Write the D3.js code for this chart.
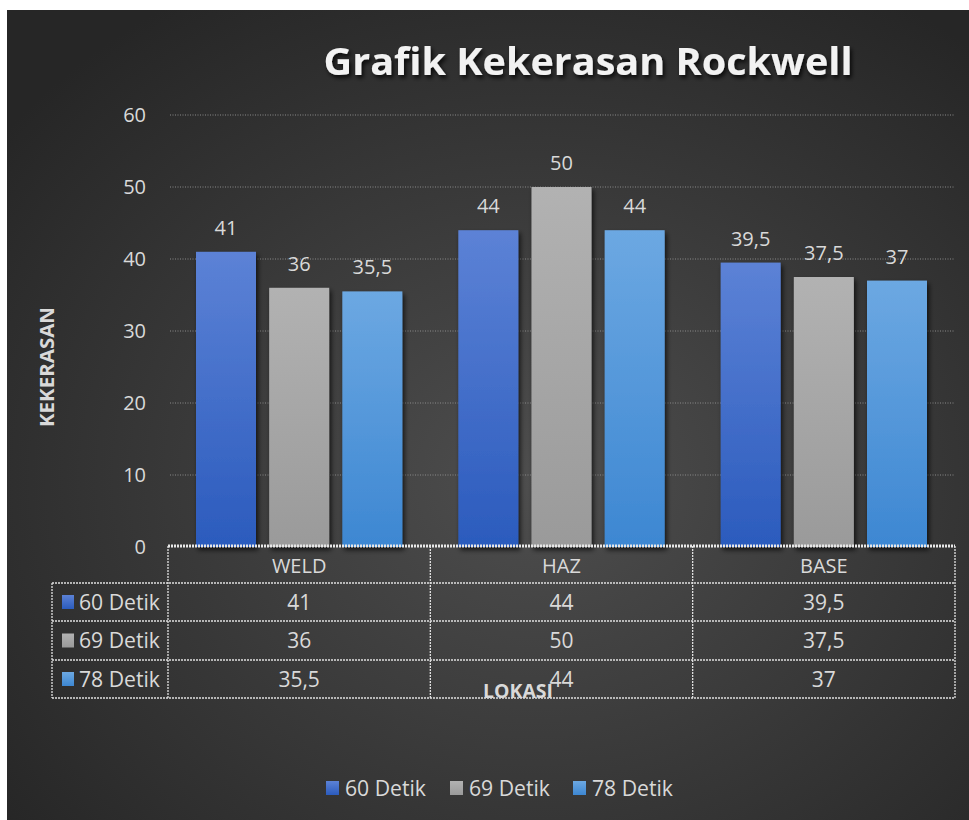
<!DOCTYPE html>
<html><head><meta charset="utf-8">
<script src="https://cdn.jsdelivr.net/npm/d3@7"></script>
<style>
html,body{margin:0;padding:0;background:#fff;}
svg{display:block;}
text{font-family:"Open Sans","Noto Sans",sans-serif;}
</style></head>
<body>
<script>
const categories = ["WELD", "HAZ", "BASE"];
const seriesNames = ["60 Detik", "69 Detik", "78 Detik"];
const values60 = [41, 44, 39.5];
const values69 = [36, 50, 37.5];
const values78 = [35.5, 44, 37];
const yTicks = [0, 10, 20, 30, 40, 50, 60];
const titleText = "Grafik Kekerasan Rockwell";
const yTitle = "KEKERASAN";
const xTitle = "LOKASI";

const seriesValues = [values60, values69, values78];
const colorsTop = ["#5c82d6", "#b2b2b2", "#6ca8e2"];
const colorsBot = ["#2b5bbd", "#9a9a9a", "#3d87d2"];
const fmt = v => String(v).replace(".", ",");

const W = 969, H = 820;
const svg = d3.select("body").append("svg").attr("width", W).attr("height", H);
const defs = svg.append("defs");

const bg = defs.append("radialGradient").attr("id", "bg")
  .attr("cx", "55%").attr("cy", "58%").attr("r", "70%");
bg.append("stop").attr("offset", "0%").attr("stop-color", "#4e4e4e");
bg.append("stop").attr("offset", "100%").attr("stop-color", "#262626");

seriesNames.forEach((s, i) => {
  const g = defs.append("linearGradient").attr("id", "g" + i)
    .attr("x1", 0).attr("y1", 0).attr("x2", 0).attr("y2", 1);
  g.append("stop").attr("offset", "0%").attr("stop-color", colorsTop[i]);
  g.append("stop").attr("offset", "100%").attr("stop-color", colorsBot[i]);
});
const sh = defs.append("filter").attr("id", "sh").attr("x", "-20%").attr("y", "-20%").attr("width", "140%").attr("height", "140%");
sh.append("feDropShadow").attr("dx", 2).attr("dy", 3).attr("stdDeviation", 2.5).attr("flood-color", "#000").attr("flood-opacity", 0.7);
const tsh = defs.append("filter").attr("id", "tsh").attr("x", "-10%").attr("y", "-30%").attr("width", "120%").attr("height", "160%");
tsh.append("feDropShadow").attr("dx", 2).attr("dy", 3).attr("stdDeviation", 2).attr("flood-color", "#000").attr("flood-opacity", 0.8);

svg.append("rect").attr("x", 7).attr("y", 10).attr("width", W - 7).attr("height", H - 10).attr("fill", "url(#bg)");

// scales
const y = d3.scaleLinear().domain([0, 60]).range([547, 115]);
const x = d3.scaleBand().domain(categories).range([168, 955]).padding(0);
const x1 = d3.scaleBand().domain(seriesNames).range([28, x.bandwidth() - 28]).paddingInner(0.18);

// gridlines
svg.append("g").selectAll("line").data(yTicks.filter(t => t > 0)).join("line")
  .attr("x1", 170).attr("x2", 955)
  .attr("y1", d => y(d)).attr("y2", d => y(d))
  .attr("stroke", "#8a8a8a").attr("stroke-width", 1).attr("stroke-dasharray", "1,1.5");

// y axis
const yAxis = svg.append("g").attr("transform", "translate(168,0)")
  .call(d3.axisLeft(y).tickValues(yTicks).tickSize(0).tickPadding(22).tickFormat(d => d));
yAxis.select(".domain").remove();
yAxis.selectAll("text").attr("fill", "#d9d9d9").attr("font-size", 20)
  .style("font-family", "'Open Sans','Noto Sans',sans-serif");

// bars
const groups = svg.append("g").selectAll("g").data(categories).join("g")
  .attr("transform", d => `translate(${x(d)},0)`);
groups.selectAll("rect").data((c, ci) => seriesNames.map((s, si) => ({s, si, v: seriesValues[si][ci]})))
  .join("rect")
  .attr("x", d => x1(d.s)).attr("width", x1.bandwidth())
  .attr("y", d => y(d.v)).attr("height", d => y(0) - y(d.v))
  .attr("fill", d => `url(#g${d.si})`).attr("filter", "url(#sh)");
groups.selectAll("text").data((c, ci) => seriesNames.map((s, si) => ({s, si, v: seriesValues[si][ci]})))
  .join("text")
  .attr("x", d => x1(d.s) + x1.bandwidth() / 2).attr("y", d => y(d.v) - 17)
  .attr("text-anchor", "middle").attr("fill", "#d9d9d9").attr("font-size", 20)
  .text(d => fmt(d.v));

// title
svg.append("text").attr("x", 588).attr("y", 75).attr("text-anchor", "middle")
  .attr("fill", "#f2f2f2").attr("font-size", 37).attr("font-weight", "bold")
  .attr("textLength", 529).attr("lengthAdjust", "spacingAndGlyphs")
  .attr("filter", "url(#tsh)").text(titleText);

// y title
svg.append("text").attr("transform", "translate(54,367) rotate(-90)")
  .attr("text-anchor", "middle").attr("fill", "#d9d9d9").attr("font-size", 20).attr("font-weight", "bold")
  .attr("textLength", 120).attr("lengthAdjust", "spacingAndGlyphs")
  .text(yTitle);

// data table
const rowY = [546, 583, 621, 660, 698];
const tbl = svg.append("g");
const lineStyle = sel => sel.attr("stroke", "#e0e0e0").attr("stroke-width", 1.3).attr("stroke-dasharray", "2,1").attr("fill", "none");
tbl.append("line").attr("x1", 168).attr("x2", 955).attr("y1", rowY[0]).attr("y2", rowY[0])
  .attr("stroke", "#e8e8e8").attr("stroke-width", 3).attr("stroke-dasharray", "2,1");
rowY.slice(1).forEach(yy => {
  tbl.append("line").attr("x1", 52).attr("x2", 955).attr("y1", yy).attr("y2", yy).call(lineStyle);
});
const vx = [168].concat(categories.map(c => x(c) + x.bandwidth()));
vx.forEach(xx => {
  tbl.append("line").attr("x1", xx).attr("x2", xx).attr("y1", rowY[0]).attr("y2", rowY[4]).call(lineStyle);
});
tbl.append("line").attr("x1", 52).attr("x2", 52).attr("y1", rowY[1]).attr("y2", rowY[4]).call(lineStyle);

tbl.selectAll(".hdr").data(categories).join("text").attr("class", "hdr")
  .attr("x", d => x(d) + x.bandwidth() / 2).attr("y", 573)
  .attr("text-anchor", "middle").attr("fill", "#d9d9d9").attr("font-size", 20).text(d => d);
seriesNames.forEach((s, si) => {
  const cy = (rowY[si + 1] + rowY[si + 2]) / 2;
  tbl.append("rect").attr("x", 62).attr("y", cy - 7).attr("width", 12).attr("height", 14)
    .attr("fill", `url(#g${si})`);
  tbl.append("text").attr("x", 79).attr("y", cy + 7.5).attr("fill", "#d9d9d9").attr("font-size", 21)
    .attr("textLength", 81).attr("lengthAdjust", "spacingAndGlyphs").text(s);
  categories.forEach((c, ci) => {
    tbl.append("text").attr("x", x(c) + x.bandwidth() / 2).attr("y", cy + 7.5)
      .attr("text-anchor", "middle").attr("fill", "#d9d9d9").attr("font-size", 21)
      .text(fmt(seriesValues[si][ci]));
  });
});

// x title
svg.append("text").attr("x", 518).attr("y", 698).attr("text-anchor", "middle")
  .attr("fill", "#d9d9d9").attr("font-size", 20).attr("font-weight", "bold")
  .attr("textLength", 70).attr("lengthAdjust", "spacingAndGlyphs").text(xTitle);

// legend
const legX = [326, 450, 573];
const leg = svg.append("g").selectAll("g").data(seriesNames).join("g")
  .attr("transform", (d, i) => `translate(${legX[i]},788)`);
leg.append("rect").attr("x", 0).attr("y", -7).attr("width", 13).attr("height", 14)
  .attr("fill", (d, i) => `url(#g${i})`);
leg.append("text").attr("x", 19).attr("y", 7.5).attr("fill", "#d9d9d9").attr("font-size", 21)
  .attr("textLength", 81).attr("lengthAdjust", "spacingAndGlyphs").text(d => d);
</script>
</body></html>
